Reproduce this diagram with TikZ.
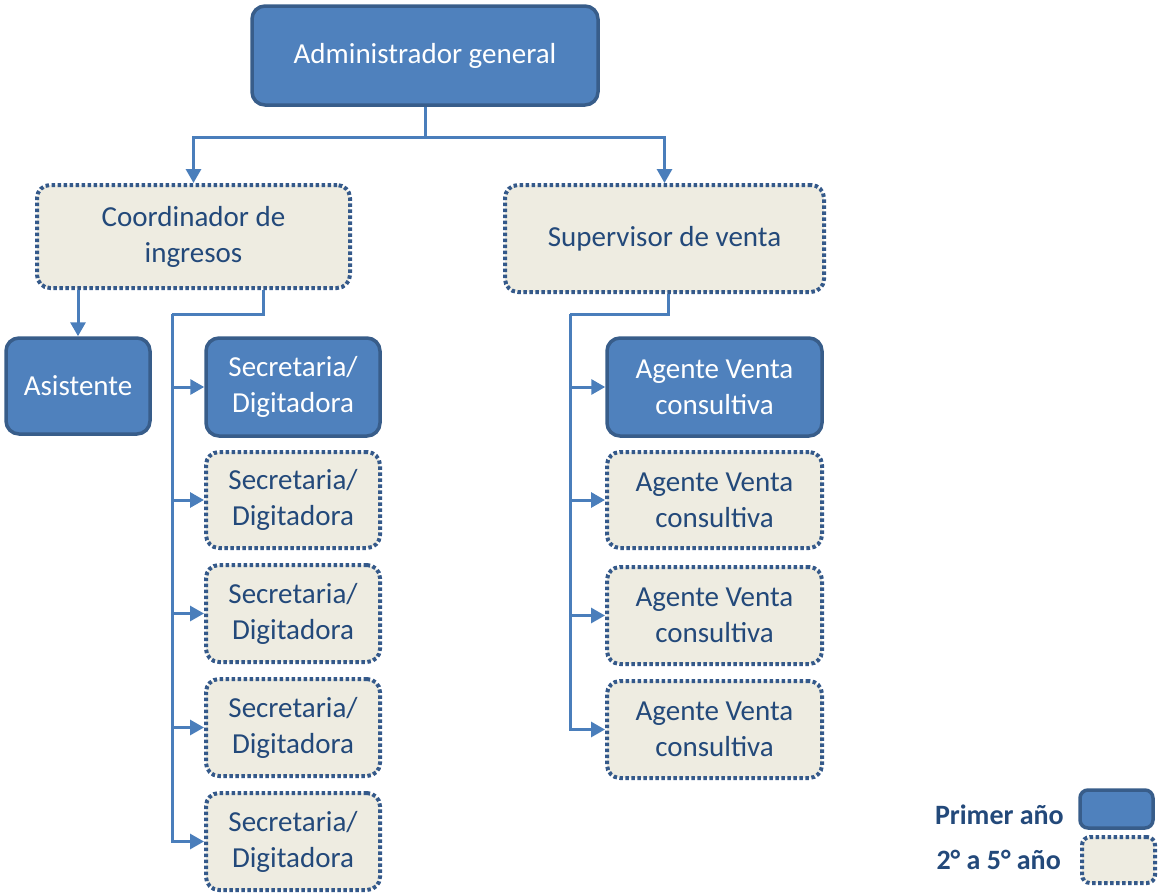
\documentclass[tikz,border=0pt]{standalone}
\usepackage{fontspec}
\setmainfont{Carlito}
\usetikzlibrary{arrows.meta}
\definecolor{boxblue}{HTML}{4F81BD}
\definecolor{boxborder}{HTML}{385D8A}
\definecolor{dotborder}{HTML}{34598A}
\definecolor{creamfill}{HTML}{EEECE1}
\definecolor{darktext}{HTML}{23497A}
\definecolor{linkblue}{HTML}{4A7EBB}
\tikzset{
  solidbox/.style={draw=boxborder, line width=3.5pt, fill=boxblue, rounded corners=13pt,
    text=white, align=center, inner sep=0pt, font=\fontsize{29}{36}\selectfont},
  dotbox/.style={draw=dotborder, line width=4pt, dash pattern=on 3.5pt off 2.5pt, fill=creamfill,
    rounded corners=13pt, text=darktext, align=center, inner sep=0pt, font=\fontsize{29}{36}\selectfont},
  link/.style={draw=linkblue, line width=3pt},
  arr/.style={link, -{Triangle[length=14pt,width=15pt]}},
  legendtext/.style={text=darktext, font=\fontsize{28}{30}\selectfont\bfseries, anchor=east, inner sep=0pt}
}
\begin{document}
\begin{tikzpicture}[x=1pt,y=-1pt]
\useasboundingbox (0,0) rectangle (1159,894);
% top
\node[solidbox, minimum width=346pt, minimum height=99pt] (adm) at (425,55.5) {Administrador general};
\node[dotbox, minimum width=313pt, minimum height=103pt] (coord) at (193.5,236.5) {Coordinador de\\ingresos};
\node[dotbox, minimum width=319pt, minimum height=107pt] (sup) at (664.5,238.5) {Supervisor de venta};
% left column
\node[solidbox, minimum width=144pt, minimum height=96pt] (asis) at (78,386) {Asistente};
\node[solidbox, minimum width=174pt, minimum height=98pt] (sec1) at (293,387) {Secretaria/\\Digitadora};
\node[dotbox, minimum width=174pt, minimum height=96pt] (sec2) at (293,500) {Secretaria/\\Digitadora};
\node[dotbox, minimum width=174pt, minimum height=97pt] (sec3) at (293,613.5) {Secretaria/\\Digitadora};
\node[dotbox, minimum width=174pt, minimum height=97pt] (sec4) at (293,727.5) {Secretaria/\\Digitadora};
\node[dotbox, minimum width=174pt, minimum height=97pt] (sec5) at (293,841.5) {Secretaria/\\Digitadora};
% right column
\node[solidbox, minimum width=215pt, minimum height=98pt] (ag1) at (714.5,387) {Agente Venta\\consultiva};
\node[dotbox, minimum width=215pt, minimum height=96pt] (ag2) at (714.5,500) {Agente Venta\\consultiva};
\node[dotbox, minimum width=215pt, minimum height=97pt] (ag3) at (714.5,615.5) {Agente Venta\\consultiva};
\node[dotbox, minimum width=215pt, minimum height=97pt] (ag4) at (714.5,729.5) {Agente Venta\\consultiva};
% connectors
\coordinate (j0) at (425,137);
\draw[arr] (adm.south) -- (j0) -| (coord.north);
\draw[arr] (j0) -| (sup.north);
\draw[arr] (asis.north |- coord.south) -- (asis.north);
\coordinate (t1) at (172,314);
\draw[link] ([xshift=69.5pt]coord.south) |- (t1);
\draw[arr] (t1) |- (sec5.west);
\foreach \n in {sec1,sec2,sec3,sec4} \draw[arr] (t1 |- \n.west) -- (\n.west);
\coordinate (t2) at (570,314);
\draw[link] ([xshift=3.5pt]sup.south) |- (t2);
\draw[arr] (t2) |- (ag4.west);
\foreach \n in {ag1,ag2,ag3} \draw[arr] (t2 |- \n.west) -- (\n.west);
% legend
\node[solidbox, minimum width=73pt, minimum height=38pt, rounded corners=8pt] (leg1) at (1116.5,809) {};
\node[dotbox, minimum width=73pt, minimum height=46pt, rounded corners=8pt] (leg2) at (1118.5,860) {};
\node[legendtext] (legt1) at (1064,815) {Primer año};
\node[legendtext] (legt2) at (1061,860) {2° a 5° año};
\end{tikzpicture}
\end{document}
